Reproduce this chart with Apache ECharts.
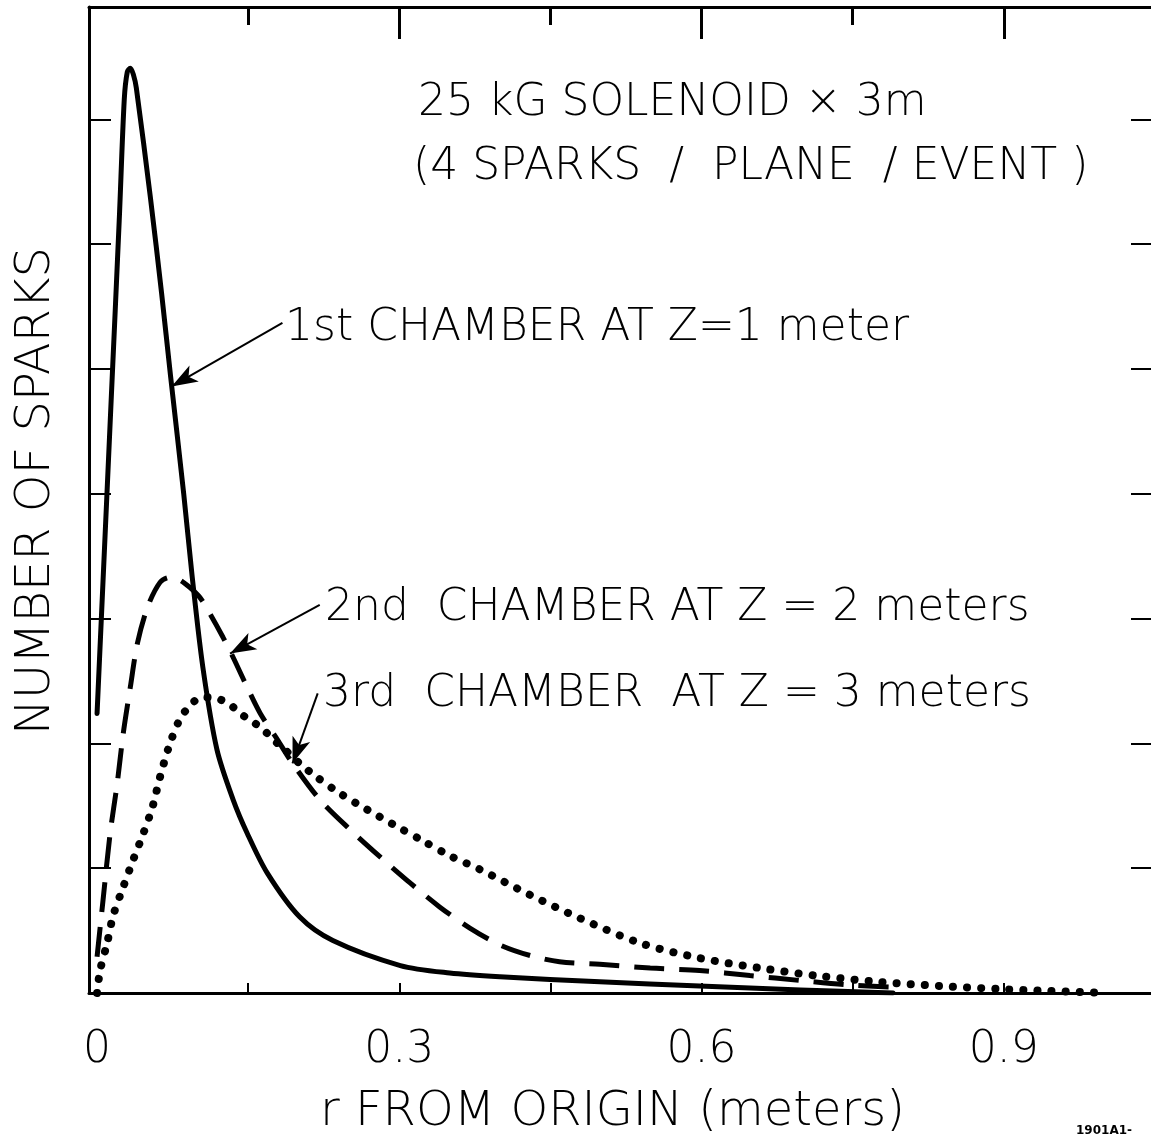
<!DOCTYPE html>
<html>
<head>
<meta charset="utf-8">
<script src="https://cdn.jsdelivr.net/npm/echarts@6/dist/echarts.min.js"></script>
<style>
html,body{margin:0;padding:0;background:#fff;}
#chart{width:1151px;height:1138px;}
</style>
</head>
<body>
<div id="chart"></div>
<script>
// r from origin (meters) and number of sparks (arbitrary units, tick = 1)
const r1 = [0.000, 0.014, 0.022, 0.027, 0.030, 0.033, 0.036, 0.039, 0.053, 0.064, 0.073, 0.086, 0.0945, 0.105, 0.119, 0.135, 0.149, 0.169, 0.201, 0.234, 0.301, 0.350, 0.400, 0.499, 0.598, 0.698, 0.790];
const n1 = [2.24, 4.75, 6.19, 7.16, 7.38, 7.41, 7.36, 7.25, 6.37, 5.61, 4.94, 4.00, 3.33, 2.61, 1.95, 1.55, 1.28, 0.96, 0.61, 0.42, 0.22, 0.16, 0.13, 0.09, 0.056, 0.024, 0.0];

const r2 = [0.000, 0.006, 0.013, 0.020, 0.026, 0.033, 0.040, 0.050, 0.0625, 0.072, 0.082, 0.092, 0.102, 0.112, 0.125, 0.135, 0.149, 0.162, 0.179, 0.194, 0.221, 0.251, 0.281, 0.311, 0.340, 0.370, 0.400, 0.430, 0.459, 0.499, 0.549, 0.598, 0.648, 0.698, 0.747, 0.789];
const n2 = [0.29, 0.75, 1.28, 1.68, 2.08, 2.45, 2.80, 3.09, 3.29, 3.33, 3.31, 3.25, 3.17, 3.04, 2.85, 2.69, 2.45, 2.24, 2.03, 1.84, 1.55, 1.31, 1.09, 0.88, 0.69, 0.52, 0.385, 0.30, 0.25, 0.23, 0.20, 0.18, 0.14, 0.10, 0.064, 0.048];

const r3 = [0.000, 0.003, 0.010, 0.016, 0.026, 0.036, 0.046, 0.055, 0.0625, 0.072, 0.082, 0.094, 0.105, 0.119, 0.132, 0.142, 0.155, 0.165, 0.175, 0.185, 0.201, 0.218, 0.241, 0.268, 0.294, 0.321, 0.350, 0.380, 0.430, 0.479, 0.539, 0.598, 0.658, 0.717, 0.777, 0.837, 0.896, 0.946, 1.000];
const n3 = [0.0, 0.18, 0.40, 0.62, 0.85, 1.07, 1.28, 1.49, 1.73, 1.99, 2.19, 2.32, 2.37, 2.36, 2.31, 2.24, 2.17, 2.11, 2.03, 1.96, 1.84, 1.73, 1.60, 1.47, 1.35, 1.23, 1.10, 0.99, 0.785, 0.60, 0.40, 0.28, 0.20, 0.136, 0.088, 0.056, 0.032, 0.016, 0.0];

const xLabelValues = [0, 0.3, 0.6, 0.9];
const xTickValues = [0.15, 0.3, 0.45, 0.6, 0.75, 0.9];
const xMajorTicks = [0.3, 0.6, 0.9];
const xMinorTicks = [0.15, 0.45, 0.75];
const yTickValues = [1, 2, 3, 4, 5, 6, 7];

// annotation arrows: [from, to] in data coordinates
const arrow1 = [[0.184, 5.37], [0.074, 4.86]];
const arrow2 = [[0.221, 3.11], [0.132, 2.72]];
const arrow3 = [[0.219, 2.40], [0.194, 1.84]];

const titleLine1 = '25 kG SOLENOID × 3m';
const titleLine2 = '(4 SPARKS  /  PLANE  / EVENT )';
const label1 = '1st CHAMBER AT Z=1 meter';
const label2 = '2nd  CHAMBER AT Z = 2 meters';
const label3 = '3rd  CHAMBER  AT Z = 3 meters';
const xName = 'r FROM ORIGIN (meters)';
const yName = 'NUMBER OF SPARKS';
const figId = '1901A1-';

const pairs = (xs, ys) => xs.map((x, i) => [x, ys[i]]);
const FONT = 'DejaVu Sans';
const XMIN = -0.008, XMAX = 1.055, YMAX = 7.9;

const chart = echarts.init(document.getElementById('chart'), null, {renderer: 'canvas'});

const axisLineStyle = {color: '#000', width: 3};
const txt = (s, x, y, size) => ({
  type: 'text', x: x, y: y,
  style: {text: s, fill: '#000', font: '200 ' + size + 'px "' + FONT + '"', verticalAlign: 'middle', align: 'left'}
});

const option = {
  animation: false,
  backgroundColor: '#fff',
  grid: {left: 89, top: 7, width: 1071, height: 986, containLabel: false, outerBoundsMode: 'none'},
  xAxis: [
    {
      type: 'value', position: 'bottom', min: XMIN, max: XMAX,
      axisLine: {onZero: false, lineStyle: axisLineStyle},
      axisTick: {inside: true, length: 10, customValues: xTickValues, lineStyle: {color: '#000', width: 2}},
      axisLabel: {customValues: xLabelValues, fontSize: 44, fontWeight: 200, fontFamily: FONT, color: '#000', margin: 36,
        formatter: v => (v === 0 ? '0' : v.toFixed(1))},
      splitLine: {show: false},
      name: xName, nameLocation: 'middle', nameGap: 96,
      nameTextStyle: {fontSize: 48, fontWeight: 200, fontFamily: FONT, color: '#000', padding: [0, 24, 0, 0]}
    },
    {
      type: 'value', position: 'top', min: XMIN, max: XMAX,
      axisLine: {onZero: false, lineStyle: axisLineStyle},
      axisTick: {inside: true, length: 32, customValues: xMajorTicks, lineStyle: {color: '#000', width: 3}},
      axisLabel: {show: false}, splitLine: {show: false}
    },
    {
      type: 'value', position: 'top', min: XMIN, max: XMAX,
      axisLine: {show: false, onZero: false},
      axisTick: {inside: true, length: 18, customValues: xMinorTicks, lineStyle: {color: '#000', width: 3}},
      axisLabel: {show: false}, splitLine: {show: false}
    }
  ],
  yAxis: [
    {
      type: 'value', position: 'left', min: 0, max: YMAX,
      axisLine: {show: true, onZero: false, lineStyle: axisLineStyle},
      axisTick: {show: true, inside: true, length: 22, customValues: yTickValues, lineStyle: {color: '#000', width: 2}},
      axisLabel: {show: false}, splitLine: {show: false},
      name: yName, nameLocation: 'middle', nameGap: 28, nameRotate: 90,
      nameTextStyle: {fontSize: 48, fontWeight: 200, fontFamily: FONT, color: '#000', padding: [0, 0, 0, 18]}
    },
    {
      type: 'value', position: 'right', min: 0, max: YMAX,
      axisLine: {show: true, onZero: false, lineStyle: axisLineStyle},
      axisTick: {show: true, inside: true, length: 29, customValues: yTickValues, lineStyle: {color: '#000', width: 2}},
      axisLabel: {show: false}, splitLine: {show: false}
    }
  ],
  series: [
    {
      name: '1st chamber', type: 'line', xAxisIndex: 0, yAxisIndex: 0,
      data: pairs(r1, n1), showSymbol: false, smooth: 0.3,
      lineStyle: {color: '#000', width: 5, cap: 'round', join: 'round'},
      markLine: {
        silent: true, symbol: ['none', 'arrow'], symbolSize: [14, 26],
        label: {show: false},
        lineStyle: {color: '#000', width: 2, type: 'solid'},
        data: [
          [{coord: arrow1[0]}, {coord: arrow1[1]}],
          [{coord: arrow2[0]}, {coord: arrow2[1]}],
          [{coord: arrow3[0]}, {coord: arrow3[1]}]
        ]
      }
    },
    {
      name: '2nd chamber', type: 'line', xAxisIndex: 0, yAxisIndex: 0,
      data: pairs(r2, n2), showSymbol: false, smooth: 0.3,
      lineStyle: {color: '#000', width: 5, type: [30, 15]}
    },
    {
      name: '3rd chamber', type: 'line', xAxisIndex: 0, yAxisIndex: 0,
      data: pairs(r3, n3), showSymbol: false, smooth: 0.3,
      lineStyle: {color: '#000', width: 8, type: [0.1, 14], cap: 'round'}
    }
  ],
  graphic: [
    txt(titleLine1, 418, 104, 44),
    txt(titleLine2, 413, 168, 44),
    txt(label1, 285, 329, 44),
    txt(label2, 325, 609, 44),
    txt(label3, 323, 695, 44),
    {type: 'text', x: 1076, y: 1131, style: {text: figId, fill: '#000', font: 'bold 12px "' + FONT + '"', verticalAlign: 'middle'}}
  ]
};
chart.setOption(option);
</script>
</body>
</html>
